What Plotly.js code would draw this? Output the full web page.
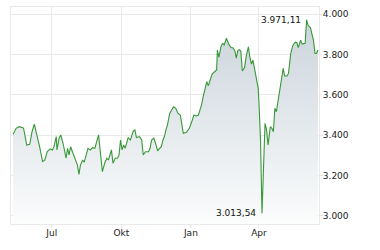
<!DOCTYPE html>
<html>
<head>
<meta charset="utf-8">
<script src="https://cdn.plot.ly/plotly-3.0.1.min.js"></script>
<style>
html,body{margin:0;padding:0;background:#fff;}
#chart{width:380px;height:250px;}
</style>
</head>
<body>
<div id="chart"></div>
<script>
const dates = [
'2024-05-11','2024-05-15','2024-05-19','2024-05-24','2024-05-25','2024-05-29','2024-06-02','2024-06-05','2024-06-08','2024-06-11','2024-06-15','2024-06-19','2024-06-22','2024-06-25','2024-06-29',
'2024-07-02','2024-07-04','2024-07-07','2024-07-08','2024-07-11','2024-07-13','2024-07-16','2024-07-20','2024-07-22','2024-07-24','2024-07-26','2024-07-29',
'2024-08-01','2024-08-04','2024-08-06','2024-08-08','2024-08-11','2024-08-13','2024-08-15','2024-08-18','2024-08-21','2024-08-24','2024-08-27','2024-08-29',
'2024-09-01','2024-09-03','2024-09-06','2024-09-09','2024-09-12','2024-09-14','2024-09-16','2024-09-18','2024-09-20','2024-09-23','2024-09-26','2024-09-28','2024-09-30',
'2024-10-02','2024-10-04','2024-10-06','2024-10-08','2024-10-10','2024-10-13','2024-10-15','2024-10-17','2024-10-19','2024-10-21','2024-10-25','2024-10-28','2024-10-30',
'2024-11-02','2024-11-06','2024-11-08','2024-11-10','2024-11-13','2024-11-16','2024-11-18','2024-11-20','2024-11-23','2024-11-25','2024-11-27','2024-11-29',
'2024-12-01','2024-12-04','2024-12-09','2024-12-12','2024-12-15','2024-12-18','2024-12-20','2024-12-22','2024-12-26','2024-12-30',
'2025-01-02','2025-01-05','2025-01-08','2025-01-11','2025-01-13','2025-01-15','2025-01-17','2025-01-20','2025-01-22','2025-01-24','2025-01-26','2025-01-29',
'2025-02-01','2025-02-04','2025-02-05','2025-02-07','2025-02-10','2025-02-12','2025-02-14','2025-02-17','2025-02-20','2025-02-23','2025-02-26','2025-02-28',
'2025-03-02','2025-03-04','2025-03-06','2025-03-08','2025-03-10','2025-03-13','2025-03-15','2025-03-18','2025-03-20','2025-03-22','2025-03-24','2025-03-27','2025-03-29','2025-03-31',
'2025-04-01','2025-04-03','2025-04-05','2025-04-07','2025-04-09','2025-04-11','2025-04-13','2025-04-16','2025-04-18','2025-04-20','2025-04-22','2025-04-24','2025-04-27','2025-04-29',
'2025-05-01','2025-05-03','2025-05-05','2025-05-08','2025-05-10','2025-05-13','2025-05-16','2025-05-19','2025-05-21','2025-05-23','2025-05-26','2025-05-28',
'2025-06-01','2025-06-03','2025-06-05','2025-06-08','2025-06-10','2025-06-12','2025-06-14','2025-06-16','2025-06-18'
];
const values = [
3404,3434,3442,3437,3431,3351,3355,3417,3455,3409,3343,3269,3277,3318,3332,
3327,3343,3393,3327,3388,3401,3360,3286,3335,3302,3343,3310,
3286,3252,3206,3252,3277,3266,3294,3335,3327,3338,3335,3360,
3401,3327,3219,3261,3286,3277,3302,3327,3261,3286,3286,3302,3376,
3327,3351,3335,3360,3388,3376,3401,3421,3426,3388,3393,3376,3302,
3318,3318,3335,3376,3385,3351,3322,3332,3343,3376,3393,3426,
3450,3508,3541,3533,3508,3500,3442,3409,3414,3434,
3465,3500,3495,3500,3525,3549,3587,3641,3665,3644,3673,3703,
3713,3723,3822,3785,3842,3855,3847,3880,3851,3834,3832,3819,
3782,3819,3824,3817,3718,3735,3789,3838,3785,3752,3772,3713,3663,3632,
3559,3376,3013.54,3277,3459,3426,3351,3442,3434,3417,3533,3516,3591,3624,
3673,3731,3693,3693,3706,3805,3847,3861,3858,3834,3871,3851,
3855,3971.11,3943,3933,3901,3871,3805,3805,3822
];
const xTickVals = ['2024-07-01','2024-10-01','2025-01-01','2025-04-01'];
const xTickText = ['Jul','Okt','Jan','Apr'];
const yTickVals = [3000,3200,3400,3600,3800,4000];

function fmtDE(v){
  const parts = v.toFixed(2).split('.');
  const intp = parts[0].replace(/\B(?=(\d{3})+(?!\d))/g,'.');
  return intp + ',' + parts[1];
}
let iMax = 0, iMin = 0;
values.forEach((v,i)=>{ if(v>values[iMax]) iMax=i; if(v<values[iMin]) iMin=i; });

const gridC = '#e9e9e9';
const font = {family:'DejaVu Sans, Verdana, sans-serif', size:9, color:'#222'};

const trace = {
  x: dates, y: values, type:'scatter', mode:'lines',
  line:{color:'#389838', width:1.1},
  fill:'tozeroy',
  fillgradient:{type:'vertical', start:2960, stop:4035,
    colorscale:[[0,'rgb(251,252,252)'],[1,'rgb(200,210,218)']]},
  hoverinfo:'skip'
};

const layout = {
  width:380, height:250,
  margin:{l:11, r:61, t:7, b:26, pad:0},
  paper_bgcolor:'#fff', plot_bgcolor:'#fff',
  separators:',.',
  showlegend:false,
  font: font,
  xaxis:{
    type:'date', range:['2024-05-08 05:00','2025-06-19 08:00'],
    tickvals:xTickVals, ticktext:xTickText,
    showgrid:true, gridcolor:gridC, gridwidth:1,
    showline:true, linecolor:gridC, linewidth:1, mirror:true,
    ticks:'outside', ticklen:3, tickcolor:gridC,
    ticklabelstandoff:-3,
    tickfont:{family:font.family, size:9, color:'#222'},
    zeroline:false, fixedrange:true
  },
  yaxis:{
    side:'right', range:[2960,4035],
    tickvals:yTickVals, tickformat:',d', separatethousands:true,
    showgrid:true, gridcolor:gridC, gridwidth:1,
    showline:true, linecolor:gridC, linewidth:1, mirror:true,
    ticks:'outside', ticklen:3, tickcolor:gridC,
    ticklabelstandoff:-2,
    tickfont:{family:font.family, size:9, color:'#222'},
    zeroline:false, fixedrange:true
  },
  annotations:[
    {x:dates[iMax], y:values[iMax], text:fmtDE(values[iMax]), showarrow:false,
     xanchor:'right', yanchor:'middle', xshift:-4, font:{family:font.family,size:9,color:'#111'}},
    {x:dates[iMin], y:values[iMin], text:fmtDE(values[iMin]), showarrow:false,
     xanchor:'right', yanchor:'middle', xshift:-4, font:{family:font.family,size:9,color:'#111'}}
  ]
};

Plotly.newPlot('chart',[trace],layout,{displayModeBar:false, staticPlot:true});
</script>
</body>
</html>
